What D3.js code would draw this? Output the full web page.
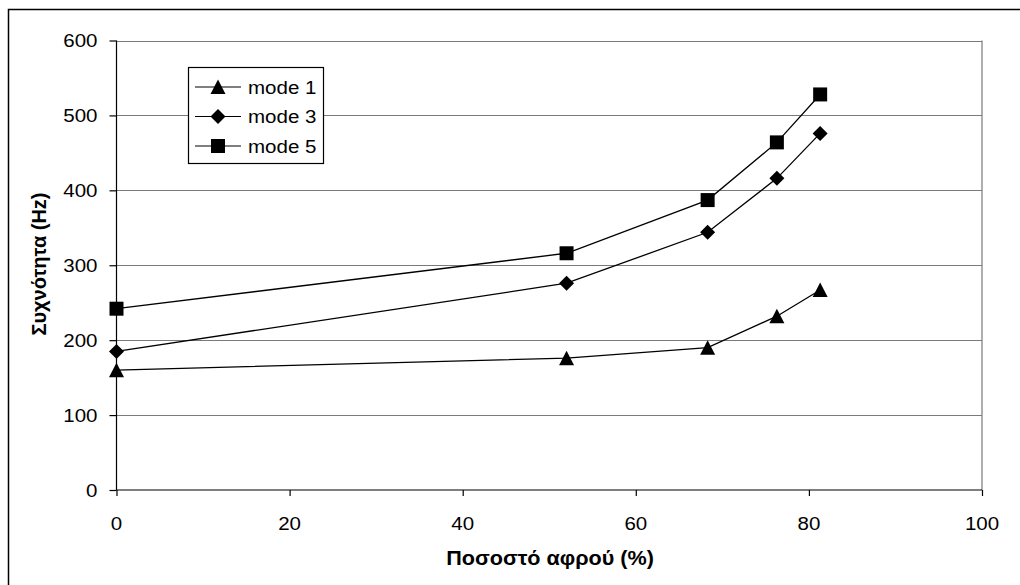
<!DOCTYPE html>
<html>
<head>
<meta charset="utf-8">
<script src="https://cdn.jsdelivr.net/npm/d3@7"></script>
<style>
  html, body { margin: 0; padding: 0; background: #fff; }
  svg { display: block; }
  text { font-family: "Liberation Sans", Arial, sans-serif; fill: #000; }
</style>
</head>
<body>
<svg id="chart" width="1020" height="585"></svg>
<script>
// Foam percentage (x) and natural frequencies (Hz) for the three modes
const foamPct = [0, 52, 68.3, 76.3, 81.3];
const mode1 = [160, 176, 190, 232, 267];
const mode3 = [185, 276, 344, 416, 476];
const mode5 = [242, 316, 387, 464, 528];
const seriesNames = ["mode 1", "mode 3", "mode 5"];
const seriesMarkers = ["triangle", "diamond", "square"];
const xTicks = [0, 20, 40, 60, 80, 100];
const yTicks = [0, 100, 200, 300, 400, 500, 600];
const xTitle = "Ποσοστό αφρού (%)";
const yTitle = "Συχνότητα (Hz)";

const series = [mode1, mode3, mode5].map((vals, i) => ({
  name: seriesNames[i],
  marker: seriesMarkers[i],
  points: foamPct.map((x, j) => ({ x, y: vals[j] }))
}));

const svg = d3.select("#chart");
const W = 1020, H = 585;
const plot = { left: 116.5, right: 982, top: 40.5, bottom: 490 };
const stretch = 1.08;   // labels are slightly wide
const fontSize = 19;

const x = d3.scaleLinear().domain([0, 100]).range([plot.left, plot.right]);
const y = d3.scaleLinear().domain([0, 600]).range([plot.bottom, plot.top]);

// marker shapes, centred on the point
const markerPath = {
  triangle: "M0,-7.5L7.5,7L-7.5,7Z",
  diamond: "M0,-7.5L7.5,0L0,7.5L-7.5,0Z",
  square: "M-7,-7L7,-7L7,7L-7,7Z"
};

// outer frame of the chart (runs off the right and bottom edges)
svg.append("rect")
  .attr("x", 8.5).attr("y", 9.5)
  .attr("width", W).attr("height", H)
  .attr("fill", "none").attr("stroke", "#000").attr("stroke-width", 1.5);

// horizontal gridlines
svg.append("g").selectAll("line")
  .data(yTicks.filter(d => d > 0))
  .join("line")
  .attr("x1", plot.left).attr("x2", plot.right)
  .attr("y1", d => Math.round(y(d)) + 0.5).attr("y2", d => Math.round(y(d)) + 0.5)
  .attr("stroke", "#7a7a7a").attr("stroke-width", 1);

// right edge of the plot area
svg.append("line")
  .attr("x1", plot.right).attr("x2", plot.right)
  .attr("y1", plot.top).attr("y2", plot.bottom)
  .attr("stroke", "#7a7a7a").attr("stroke-width", 1.2);

// axes
const yAxis = d3.axisLeft(y).tickValues(yTicks).tickSize(7).tickFormat("");
const xAxis = d3.axisBottom(x).tickValues(xTicks).tickSize(6).tickFormat("");
const gy = svg.append("g").attr("transform", `translate(${plot.left},0)`).call(yAxis);
const gx = svg.append("g").attr("transform", `translate(0,${plot.bottom})`).call(xAxis);
[gy, gx].forEach(g => {
  g.select(".domain").attr("stroke", "#000").attr("stroke-width", 1.2);
  g.selectAll(".tick line").attr("stroke", "#000").attr("stroke-width", 1.2);
});
gy.select(".domain").attr("d", `M0,${plot.top}V${plot.bottom}`);
gx.select(".domain").attr("d", `M${plot.left},0H${plot.right}`);

// tick labels
function label(parent, px, py, txt, anchor, opts = {}) {
  const g = parent.append("g").attr("transform", `translate(${px},${py}) scale(${stretch},1)`);
  return g.append("text")
    .attr("text-anchor", anchor)
    .attr("font-size", opts.size || fontSize)
    .attr("font-weight", opts.weight || "normal")
    .text(txt);
}
const yl = svg.append("g");
yTicks.forEach(t => label(yl, 97.5, y(t) + 6.8, t, "end"));
const xl = svg.append("g");
xTicks.forEach(t => label(xl, x(t), 530, t, "middle"));

// axis titles
label(svg, 550, 565, xTitle, "middle", { weight: "bold", size: 20 });
svg.append("text")
  .attr("transform", `translate(46,264) rotate(-90)`)
  .attr("text-anchor", "middle")
  .attr("font-size", 20)
  .attr("font-weight", "bold")
  .text(yTitle);

// series lines and markers
const line = d3.line().x(d => x(d.x)).y(d => y(d.y));
const gs = svg.append("g").selectAll("g").data(series).join("g");
gs.append("path")
  .attr("d", d => line(d.points))
  .attr("fill", "none").attr("stroke", "#000").attr("stroke-width", 1.3);
gs.each(function (s) {
  d3.select(this).selectAll("path.mk")
    .data(s.points)
    .join("path")
    .attr("class", "mk")
    .attr("d", markerPath[s.marker])
    .attr("transform", d => `translate(${x(d.x)},${y(d.y)})`)
    .attr("fill", "#000");
});

// legend
const leg = svg.append("g");
leg.append("rect")
  .attr("x", 188.5).attr("y", 67.5).attr("width", 135).attr("height", 96)
  .attr("fill", "#fff").attr("stroke", "#000").attr("stroke-width", 1.2);
const rows = leg.selectAll("g.row").data(series).join("g")
  .attr("class", "row")
  .attr("transform", (d, i) => `translate(0,${87 + i * 29.5})`);
rows.append("line")
  .attr("x1", 195).attr("x2", 241).attr("y1", 0).attr("y2", 0)
  .attr("stroke", "#000").attr("stroke-width", 1.2);
rows.append("path")
  .attr("d", d => markerPath[d.marker])
  .attr("transform", "translate(218,0)")
  .attr("fill", "#000");
rows.each(function (d) { label(d3.select(this), 248, 6.8, d.name, "start"); });
</script>
</body>
</html>
